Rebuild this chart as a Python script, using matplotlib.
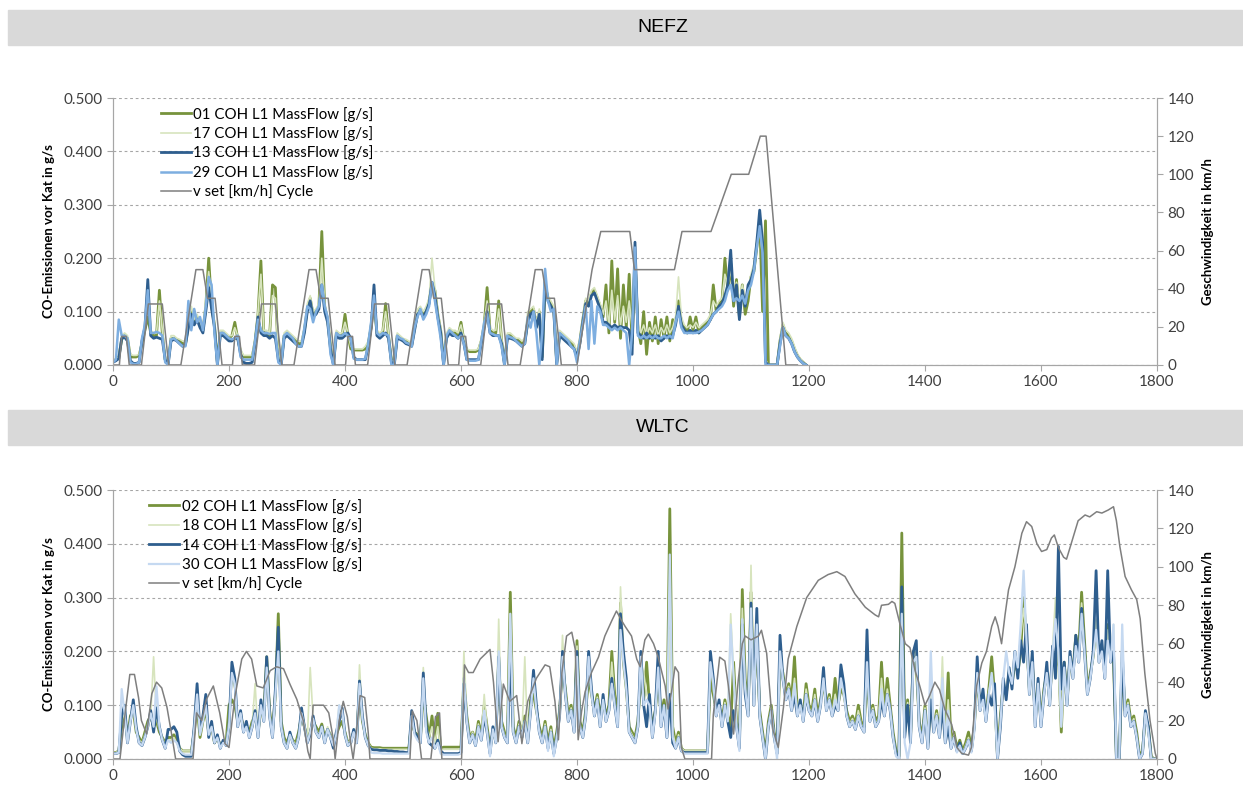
import numpy as np
import matplotlib.pyplot as plt
from matplotlib.patches import Rectangle

plt.rcParams['font.family'] = ['Lato', 'DejaVu Sans']

# ---------------- NEFZ ----------------
# CO-Emissionen in mg/s, Raster 5 s (t = 0 ... 1195 s)
nefz_01 = [
    8, 10, 15, 48, 55, 50, 15, 15, 15, 18, 40, 65, 90, 60, 55, 55, 140, 60, 10, 5,
    50, 50, 48, 45, 40, 40, 75, 100, 80, 90, 75, 65, 110, 200, 110, 75, 5, 60, 60, 55,
    50, 55, 80, 50, 25, 15, 15, 15, 15, 45, 95, 195, 60, 60, 55, 150, 145, 15, 5, 55,
    60, 55, 50, 45, 40, 40, 65, 105, 125, 95, 100, 110, 250, 110, 85, 35, 5, 60, 55, 55,
    95, 55, 30, 28, 28, 28, 28, 30, 40, 70, 120, 60, 55, 60, 115, 55, 10, 5, 55, 50,
    48, 45, 40, 38, 70, 95, 105, 95, 100, 120, 150, 140, 95, 65, 5, 55, 65, 60, 60, 55,
    80, 45, 28, 25, 25, 25, 28, 45, 75, 145, 65, 60, 60, 120, 45, 5, 55, 55, 50, 48,
    45, 40, 45, 80, 100, 105, 75, 100, 15, 150, 125, 115, 105, 5, 60, 55, 50, 45, 40, 35,
    20, 45, 85, 120, 115, 135, 140, 125, 110, 90, 150, 60, 195, 80, 180, 50, 150, 70, 170, 40,
    200, 70, 40, 100, 20, 80, 45, 90, 40, 85, 50, 90, 45, 85, 80, 120, 80, 70, 60, 90,
    65, 90, 60, 70, 75, 80, 85, 150, 100, 115, 120, 200, 140, 190, 110, 160, 90, 150, 95, 120,
    165, 175, 220, 270, 100, 270, 0, 0, 0, 0, 45, 75, 60, 55, 45, 30, 18, 10, 5, 0]
nefz_17 = [
    8, 10, 15, 55, 60, 55, 20, 18, 18, 20, 45, 75, 120, 65, 60, 60, 120, 65, 15, 5,
    55, 55, 50, 48, 45, 45, 80, 110, 85, 95, 80, 70, 120, 175, 120, 80, 5, 65, 65, 60,
    55, 55, 70, 55, 30, 18, 18, 18, 18, 50, 100, 170, 65, 65, 60, 130, 125, 20, 5, 60,
    65, 60, 55, 50, 45, 45, 70, 115, 130, 100, 105, 115, 200, 115, 90, 40, 5, 65, 60, 60,
    80, 60, 35, 30, 30, 30, 30, 35, 45, 80, 130, 65, 60, 65, 100, 60, 10, 5, 60, 55,
    50, 48, 45, 40, 75, 105, 110, 100, 110, 125, 200, 145, 100, 70, 5, 60, 70, 65, 65, 60,
    75, 50, 30, 28, 28, 28, 30, 50, 80, 120, 70, 65, 65, 105, 50, 5, 60, 60, 55, 50,
    50, 45, 50, 100, 105, 110, 80, 105, 20, 160, 130, 120, 110, 5, 65, 60, 55, 50, 45, 40,
    25, 50, 90, 125, 120, 140, 145, 130, 115, 95, 120, 75, 140, 85, 130, 75, 110, 80, 120, 70,
    180, 75, 60, 75, 55, 70, 60, 75, 55, 70, 60, 75, 60, 70, 90, 165, 90, 75, 70, 75,
    70, 80, 70, 75, 80, 85, 95, 120, 110, 120, 125, 170, 150, 180, 130, 155, 120, 150, 125, 140,
    170, 190, 235, 260, 200, 10, 0, 0, 0, 0, 50, 80, 65, 60, 50, 35, 20, 12, 5, 0]
nefz_13 = [
    5, 8, 12, 50, 52, 45, 8, 3, 3, 5, 45, 70, 160, 55, 50, 52, 50, 48, 10, 0,
    45, 48, 45, 40, 35, 38, 70, 95, 75, 85, 70, 60, 100, 145, 105, 70, 0, 55, 55, 50,
    45, 45, 50, 50, 20, 5, 3, 3, 5, 40, 90, 60, 55, 55, 50, 55, 50, 10, 0, 50,
    55, 50, 45, 40, 35, 35, 60, 100, 120, 90, 95, 105, 150, 100, 80, 30, 0, 55, 50, 50,
    55, 60, 50, 15, 10, 10, 10, 10, 35, 70, 150, 55, 50, 55, 60, 50, 5, 0, 50, 48,
    45, 40, 38, 35, 65, 95, 100, 90, 100, 115, 155, 130, 90, 60, 0, 50, 60, 55, 55, 50,
    60, 40, 10, 10, 10, 10, 10, 40, 70, 100, 60, 55, 55, 55, 40, 0, 50, 50, 48, 45,
    40, 35, 40, 80, 95, 100, 70, 95, 10, 155, 120, 110, 100, 0, 55, 50, 45, 40, 35, 30,
    15, 40, 80, 115, 110, 130, 135, 120, 105, 80, 80, 75, 70, 75, 70, 72, 70, 70, 65, 20,
    230, 60, 55, 50, 60, 50, 55, 50, 55, 45, 50, 55, 50, 55, 75, 110, 75, 65, 60, 65,
    60, 65, 60, 65, 70, 75, 85, 95, 100, 110, 115, 130, 150, 215, 120, 150, 85, 140, 110, 150,
    160, 180, 230, 290, 230, 5, 0, 0, 0, 0, 40, 70, 55, 50, 40, 25, 15, 8, 3, 0]
nefz_29 = [
    5, 10, 85, 55, 55, 50, 5, 2, 2, 5, 50, 75, 140, 60, 60, 62, 60, 55, 5, 0,
    48, 50, 45, 40, 35, 35, 120, 65, 105, 80, 90, 65, 110, 165, 150, 60, 0, 60, 60, 55,
    50, 48, 50, 55, 15, 10, 10, 10, 10, 45, 85, 65, 60, 60, 58, 60, 60, 5, 0, 55,
    60, 55, 50, 40, 35, 35, 70, 110, 105, 80, 100, 110, 150, 110, 90, 20, 0, 60, 55, 55,
    60, 55, 50, 12, 10, 10, 10, 12, 40, 80, 130, 60, 55, 60, 58, 55, 0, 0, 55, 50,
    48, 42, 40, 35, 70, 90, 105, 85, 95, 110, 155, 120, 85, 50, 0, 55, 65, 60, 55, 50,
    55, 40, 10, 8, 8, 8, 10, 45, 80, 95, 60, 58, 55, 55, 35, 0, 55, 52, 50, 45,
    40, 35, 40, 90, 70, 100, 60, 0, 60, 180, 120, 100, 105, 0, 60, 55, 50, 45, 35, 30,
    5, 45, 75, 110, 30, 120, 40, 110, 100, 75, 75, 70, 65, 70, 65, 70, 65, 60, 0, 60,
    220, 55, 50, 55, 50, 55, 50, 55, 50, 50, 55, 50, 55, 50, 80, 100, 70, 60, 60, 60,
    60, 60, 62, 65, 70, 75, 85, 95, 100, 105, 110, 120, 140, 150, 120, 125, 120, 130, 115, 140,
    150, 175, 220, 260, 210, 0, 0, 0, 0, 0, 35, 70, 55, 50, 40, 25, 15, 8, 3, 0]

# Geschwindigkeit NEFZ (Stuetzpunkte s, km/h)
nefz_v_t = [0, 11, 15, 23, 28, 49, 61, 85, 96, 117, 143, 155, 163, 176, 188,
            206, 210, 218, 223, 244, 256, 280, 291, 312, 338, 350, 358, 371, 383,
            401, 405, 413, 418, 439, 451, 475, 486, 507, 533, 545, 553, 566, 578,
            596, 600, 608, 613, 634, 646, 670, 681, 702, 728, 740, 748, 761, 773,
            800, 826, 841, 891, 899, 968, 981, 1031, 1066, 1096, 1116, 1126, 1160, 1180]
nefz_v = [0, 0, 15, 15, 0, 0, 32, 32, 0, 0, 50, 50, 35, 35, 0,
          0, 15, 15, 0, 0, 32, 32, 0, 0, 50, 50, 35, 35, 0,
          0, 15, 15, 0, 0, 32, 32, 0, 0, 50, 50, 35, 35, 0,
          0, 15, 15, 0, 0, 32, 32, 0, 0, 50, 50, 35, 35, 0,
          0, 50, 70, 70, 50, 50, 70, 70, 100, 100, 120, 120, 0, 0]

# ---------------- WLTC ----------------
# CO-Emissionen in mg/s, Raster 5 s (t = 0 ... 1800 s)
wltc_02 = [
    12, 12, 15, 60, 80, 40, 80, 90, 50, 40, 30, 50, 70, 80, 60, 70, 50, 40, 30, 40,
    40, 45, 35, 20, 15, 15, 15, 15, 50, 100, 40, 70, 90, 50, 60, 30, 40, 25, 30, 30,
    100, 110, 100, 70, 80, 60, 60, 50, 70, 80, 50, 90, 80, 190, 90, 50, 120, 270, 70, 40,
    30, 45, 35, 30, 50, 80, 60, 40, 50, 70, 60, 50, 65, 40, 55, 45, 30, 45, 60, 70,
    50, 30, 35, 50, 35, 130, 70, 45, 30, 22, 21, 21, 21, 20, 20, 20, 20, 20, 20, 20,
    20, 20, 20, 70, 50, 45, 40, 120, 80, 40, 80, 30, 85, 20, 22, 22, 22, 22, 22, 22,
    22, 150, 80, 40, 50, 35, 70, 45, 100, 60, 20, 50, 40, 180, 70, 50, 40, 310, 60, 40,
    70, 50, 80, 40, 110, 120, 90, 60, 40, 70, 30, 60, 20, 50, 90, 170, 130, 80, 100, 60,
    220, 70, 50, 90, 150, 120, 90, 120, 80, 110, 80, 100, 200, 120, 80, 290, 180, 130, 60, 50,
    40, 70, 150, 110, 180, 100, 60, 90, 150, 80, 110, 60, 465, 60, 30, 50, 20, 15, 15, 15,
    15, 15, 15, 15, 15, 15, 150, 120, 90, 100, 70, 110, 80, 60, 180, 70, 30, 315, 150, 90,
    310, 120, 220, 90, 50, 10, 70, 100, 50, 20, 180, 160, 120, 140, 110, 190, 90, 100, 80, 140,
    100, 90, 130, 80, 110, 140, 100, 120, 90, 150, 100, 130, 120, 90, 70, 80, 65, 100, 70, 60,
    150, 80, 100, 70, 80, 180, 90, 150, 100, 50, 15, 5, 420, 50, 110, 40, 200, 170, 70, 40,
    100, 30, 110, 60, 90, 50, 120, 40, 160, 30, 50, 20, 35, 15, 30, 50, 20, 60, 150, 100,
    110, 80, 130, 190, 120, 5, 80, 140, 120, 160, 140, 180, 160, 200, 300, 220, 130, 180, 80, 140,
    70, 130, 160, 110, 200, 170, 200, 50, 180, 110, 190, 160, 230, 200, 310, 220, 130, 160, 190, 250,
    190, 200, 170, 250, 190, 180, 5, 0, 180, 90, 110, 70, 80, 50, 5, 15, 80, 60, 5, 0,
    0]
wltc_18 = [
    12, 12, 15, 70, 90, 40, 75, 95, 55, 35, 30, 45, 65, 80, 190, 75, 55, 40, 25, 35,
    35, 40, 30, 20, 15, 15, 15, 15, 60, 110, 45, 75, 100, 45, 65, 35, 45, 25, 35, 30,
    70, 150, 130, 65, 85, 55, 65, 45, 65, 140, 45, 100, 75, 170, 85, 45, 110, 230, 65, 35,
    25, 50, 35, 25, 45, 85, 65, 35, 170, 75, 55, 45, 60, 35, 60, 45, 30, 50, 100, 80,
    50, 30, 35, 55, 35, 175, 75, 40, 30, 20, 19, 19, 19, 18, 18, 18, 18, 18, 18, 18,
    18, 18, 18, 80, 50, 40, 35, 170, 60, 40, 60, 30, 60, 18, 18, 18, 18, 18, 18, 18,
    20, 200, 80, 35, 50, 30, 65, 40, 120, 55, 15, 55, 35, 260, 65, 45, 35, 270, 55, 35,
    65, 45, 190, 35, 100, 150, 95, 55, 35, 65, 25, 55, 15, 45, 85, 230, 130, 75, 95, 55,
    210, 65, 45, 85, 180, 125, 85, 115, 70, 115, 75, 95, 180, 110, 70, 320, 190, 140, 55, 45,
    35, 65, 180, 160, 120, 110, 50, 85, 180, 70, 100, 50, 240, 50, 25, 45, 20, 15, 15, 15,
    15, 15, 15, 15, 15, 15, 190, 130, 85, 105, 65, 105, 75, 270, 160, 65, 25, 280, 140, 85,
    360, 110, 260, 85, 45, 5, 65, 95, 45, 15, 200, 150, 115, 135, 100, 150, 85, 105, 75, 130,
    95, 85, 120, 75, 105, 160, 95, 115, 85, 120, 95, 140, 130, 85, 65, 75, 60, 90, 65, 55,
    200, 75, 95, 65, 75, 150, 85, 130, 95, 45, 12, 3, 300, 45, 105, 35, 190, 200, 65, 35,
    95, 25, 120, 55, 85, 45, 190, 35, 110, 25, 45, 15, 30, 12, 25, 40, 15, 55, 170, 95,
    120, 75, 125, 150, 110, 5, 70, 150, 125, 170, 150, 190, 170, 230, 280, 230, 125, 190, 70, 150,
    65, 125, 170, 105, 210, 300, 180, 60, 170, 105, 200, 155, 220, 190, 290, 210, 125, 155, 195, 260,
    185, 210, 160, 240, 185, 250, 5, 0, 190, 85, 105, 65, 75, 45, 5, 12, 85, 55, 5, 0,
    0]
wltc_14 = [
    10, 10, 12, 80, 100, 30, 70, 110, 60, 30, 25, 40, 60, 90, 50, 95, 60, 35, 20, 55,
    55, 60, 50, 15, 8, 5, 5, 5, 60, 140, 50, 80, 120, 40, 70, 30, 45, 20, 35, 25,
    60, 180, 150, 60, 90, 50, 70, 40, 60, 90, 40, 110, 70, 190, 80, 40, 130, 245, 60, 30,
    20, 50, 30, 20, 40, 95, 60, 30, 45, 80, 50, 40, 60, 30, 55, 40, 20, 50, 70, 95,
    45, 25, 30, 55, 30, 145, 80, 40, 25, 18, 17, 17, 16, 16, 16, 15, 15, 14, 14, 13,
    13, 12, 12, 90, 50, 40, 30, 160, 60, 30, 25, 20, 35, 15, 10, 10, 10, 10, 10, 10,
    12, 140, 70, 30, 45, 25, 60, 35, 80, 50, 10, 60, 30, 190, 60, 40, 30, 200, 50, 30,
    60, 40, 70, 30, 90, 165, 100, 50, 30, 60, 20, 50, 10, 40, 80, 200, 120, 70, 90, 50,
    200, 60, 40, 80, 200, 130, 80, 110, 60, 120, 70, 90, 150, 100, 60, 270, 200, 150, 50, 40,
    30, 60, 200, 100, 60, 120, 40, 90, 200, 60, 100, 40, 120, 30, 20, 40, 15, 12, 12, 12,
    12, 12, 12, 12, 12, 12, 200, 150, 80, 110, 60, 100, 70, 40, 90, 60, 20, 250, 120, 80,
    290, 100, 280, 80, 40, 0, 60, 90, 40, 10, 230, 150, 110, 130, 90, 120, 80, 110, 70, 120,
    90, 80, 110, 70, 100, 170, 90, 110, 80, 100, 90, 175, 140, 80, 60, 70, 55, 80, 60, 50,
    240, 70, 90, 60, 70, 110, 80, 120, 90, 40, 10, 0, 320, 40, 100, 30, 200, 220, 60, 30,
    90, 20, 110, 50, 80, 40, 100, 30, 60, 20, 40, 15, 30, 10, 20, 35, 15, 60, 190, 90,
    130, 70, 120, 100, 140, 0, 60, 150, 110, 170, 130, 200, 150, 220, 180, 250, 120, 200, 60, 150,
    60, 120, 180, 100, 210, 150, 395, 130, 180, 100, 200, 150, 230, 180, 280, 200, 120, 150, 200, 350,
    180, 220, 150, 350, 180, 200, 0, 0, 200, 80, 100, 60, 70, 40, 0, 10, 90, 60, 0, 0,
    0]
wltc_30 = [
    10, 10, 12, 130, 85, 30, 70, 100, 55, 30, 25, 40, 60, 85, 60, 135, 60, 35, 20, 35,
    30, 35, 30, 15, 10, 8, 8, 8, 55, 120, 45, 70, 100, 45, 60, 30, 40, 20, 30, 25,
    60, 160, 140, 60, 85, 50, 60, 40, 60, 85, 40, 100, 70, 170, 80, 40, 120, 200, 60, 30,
    20, 45, 30, 20, 40, 85, 60, 30, 50, 75, 50, 40, 60, 30, 55, 40, 25, 45, 100, 90,
    45, 25, 30, 50, 30, 140, 75, 40, 25, 12, 11, 11, 11, 10, 10, 10, 10, 10, 10, 10,
    10, 10, 10, 80, 45, 35, 30, 150, 50, 30, 40, 20, 30, 10, 8, 8, 8, 8, 8, 8,
    10, 150, 70, 30, 45, 25, 60, 35, 90, 50, 5, 55, 30, 200, 60, 40, 30, 270, 50, 30,
    60, 40, 70, 30, 90, 150, 90, 50, 30, 60, 15, 50, 5, 40, 80, 190, 120, 70, 90, 50,
    190, 60, 40, 80, 190, 120, 80, 110, 60, 110, 70, 90, 140, 100, 60, 240, 180, 130, 50, 40,
    30, 60, 190, 100, 110, 100, 40, 85, 170, 60, 100, 40, 380, 40, 20, 40, 15, 10, 10, 10,
    10, 10, 10, 10, 10, 10, 180, 140, 80, 100, 60, 100, 70, 250, 150, 60, 15, 260, 130, 80,
    280, 100, 250, 80, 40, 0, 60, 90, 40, 0, 200, 150, 110, 130, 90, 140, 80, 100, 70, 120,
    90, 80, 110, 70, 100, 150, 90, 110, 80, 110, 90, 150, 120, 80, 60, 70, 55, 80, 60, 50,
    180, 70, 90, 60, 70, 130, 80, 120, 90, 40, 5, 0, 270, 30, 0, 30, 180, 190, 60, 30,
    90, 20, 200, 50, 80, 40, 150, 30, 90, 20, 40, 12, 25, 10, 20, 35, 12, 50, 160, 90,
    110, 70, 120, 160, 100, 0, 65, 150, 200, 160, 140, 200, 170, 250, 350, 220, 120, 180, 60, 140,
    60, 120, 160, 100, 200, 260, 200, 60, 170, 100, 190, 150, 210, 180, 270, 200, 120, 150, 190, 240,
    180, 200, 150, 220, 180, 250, 0, 0, 250, 80, 100, 60, 70, 40, 0, 10, 85, 50, 0, 0,
    0]

# Geschwindigkeit WLTC (Stuetzpunkte s, km/h)
wltc_v_t = [0, 12, 21, 29, 37, 44, 49, 58, 67, 75, 84, 93, 101, 108, 138, 144, 153, 161, 173,
            184, 193, 200, 210, 222, 230, 239, 248, 259, 271, 282, 294, 305, 317, 328, 336,
            340, 345, 363, 372, 380, 383, 390, 397, 404, 409, 414, 420, 426, 434, 440, 443,
            512, 516, 524, 532, 548, 556, 563, 567, 601, 606, 613, 621, 633, 650, 656, 664,
            673, 684, 696, 705, 715, 730, 745, 753, 762, 768, 774, 782, 791, 797, 802, 808,
            814, 825, 837, 848, 860, 868, 877, 883, 894, 903, 909, 917, 923, 932, 940, 952,
            957, 963, 969, 975, 980, 986, 1032, 1035, 1046, 1055, 1061, 1070, 1078, 1085,
            1090, 1100, 1113, 1118, 1127, 1133, 1138, 1147, 1156, 1164, 1179, 1196, 1216,
            1233, 1248, 1262, 1279, 1297, 1314, 1320, 1325, 1337, 1343, 1348, 1357, 1366,
            1374, 1383, 1391, 1400, 1408, 1417, 1425, 1434, 1446, 1455, 1463, 1475, 1480,
            1489, 1498, 1506, 1515, 1521, 1526, 1532, 1538, 1544, 1555, 1567, 1575, 1584,
            1593, 1601, 1610, 1618, 1623, 1630, 1639, 1644, 1653, 1664, 1676, 1684, 1696,
            1705, 1716, 1725, 1730, 1736, 1745, 1756, 1765, 1771, 1779, 1788, 1797, 1800]
wltc_v = [0, 0, 24, 44, 44, 32, 20, 13, 34, 40, 37, 27, 13, 0, 0, 24, 20, 31, 38,
          24, 8, 6, 32, 52, 56, 52, 38, 37, 46, 48, 47, 39, 31, 20, 4,
          0, 28, 28, 24, 10, 0, 20, 30, 22, 10, 0, 15, 33, 32, 14, 0,
          0, 25, 20, 0, 0, 22, 24, 0, 0, 49, 45, 45, 52, 57, 40, 9,
          39, 30, 33, 8, 30, 42, 49, 48, 30, 10, 45, 64, 66, 57, 10, 25,
          35, 45, 53, 64, 72, 77, 72, 69, 64, 52, 48, 62, 65, 60, 53, 38,
          26, 35, 48, 45, 6, 0, 0, 23, 53, 51, 38, 13, 41, 60,
          64, 62, 64, 67, 55, 33, 15, 6, 27, 52, 69, 84, 93,
          96, 97.5, 95, 86, 79, 75, 74, 80, 80.5, 82, 81, 70, 60,
          58, 46, 38, 28, 33, 40, 36, 26, 18, 6, 3, 2, 6,
          38, 50, 56, 69, 74, 69, 60, 75, 88, 100, 117.5, 123.5, 121,
          112, 108, 109, 115, 116.6, 110, 105, 104, 113, 124, 127, 126, 128.7,
          128, 129.6, 131.3, 124, 110.5, 95, 88, 83, 73, 44.6, 20, 3, 0]

labels_nefz = ['01 COH L1 MassFlow [g/s]', '17 COH L1 MassFlow [g/s]',
               '13 COH L1 MassFlow [g/s]', '29 COH L1 MassFlow [g/s]']
labels_wltc = ['02 COH L1 MassFlow [g/s]', '18 COH L1 MassFlow [g/s]',
               '14 COH L1 MassFlow [g/s]', '30 COH L1 MassFlow [g/s]']

W, H = 1243, 785
fig = plt.figure(figsize=(W / 100, H / 100), dpi=100)

grey = '#A6A6A6'
txt = '#404040'


def banner(y_top, text):
    fig.patches.append(Rectangle((8 / W, 1 - (y_top + 35) / H), 1234 / W, 35 / H,
                                 transform=fig.transFigure, color='#D9D9D9', zorder=0))
    fig.text(663 / W, 1 - (y_top + 18) / H, text, ha='center', va='center',
             fontsize=14, family=['Liberation Sans', 'DejaVu Sans'], color='black')


def panel(rect, series, labels, colors, widths, v_t, v, leg_anchor):
    ax = fig.add_axes(rect)
    handles = []
    for s, lab, c, lw in zip(series, labels, colors, widths):
        t = np.arange(len(s)) * 5
        h, = ax.plot(t, np.array(s) / 1000.0, color=c, lw=lw, label=lab)
        handles.append(h)
    ax.set_xlim(0, 1800)
    ax.set_ylim(0, 0.5)
    ax.set_xticks(np.arange(0, 1801, 200))
    ax.set_yticks(np.arange(0, 0.501, 0.1))
    ax.yaxis.set_major_formatter(plt.FormatStrFormatter('%.3f'))
    ax.grid(axis='y', color=grey, lw=0.8, linestyle=(0, (2.5, 2.5)))
    ax.set_axisbelow(True)
    ax.set_ylabel('CO-Emissionen vor Kat in g/s', fontsize=9.5, fontweight='bold',
                  color='black', labelpad=6)

    ax2 = ax.twinx()
    hv, = ax2.plot(v_t, v, color='#7F7F7F', lw=1.1, label='v set [km/h] Cycle')
    handles.append(hv)
    ax2.set_ylim(0, 140)
    ax2.set_yticks(np.arange(0, 141, 20))
    ax2.set_ylabel('Geschwindigkeit in km/h', fontsize=9.5, fontweight='bold',
                   color='black', labelpad=6)

    for a in (ax, ax2):
        for side in ('left', 'right', 'bottom'):
            a.spines[side].set_color(grey)
        a.spines['top'].set_visible(False)
        a.tick_params(colors=grey, labelcolor=txt, labelsize=11, length=4)
    ax.legend(handles=handles, loc='upper left', bbox_to_anchor=leg_anchor,
              frameon=False, fontsize=10.8, handlelength=2.0, handletextpad=0.15,
              labelspacing=0.3, borderaxespad=0, labelcolor='black')
    return ax


banner(10, 'NEFZ')
banner(410, 'WLTC')

panel([113 / W, 1 - 365 / H, 1044 / W, 267 / H],
      [nefz_01, nefz_17, nefz_13, nefz_29], labels_nefz,
      ['#77933C', '#D7E4BD', '#2E5E8E', '#7DAEE0'], [2.0, 1.2, 2.0, 1.8],
      nefz_v_t, nefz_v, (0.04, 0.99))
panel([113 / W, 1 - 759 / H, 1044 / W, 269 / H],
      [wltc_02, wltc_18, wltc_14, wltc_30], labels_wltc,
      ['#77933C', '#D7E4BD', '#2E5E8E', '#C5D9F1'], [2.0, 1.2, 2.0, 1.6],
      wltc_v_t, wltc_v, (0.029, 0.99))

fig.savefig('out.png', dpi=100)
